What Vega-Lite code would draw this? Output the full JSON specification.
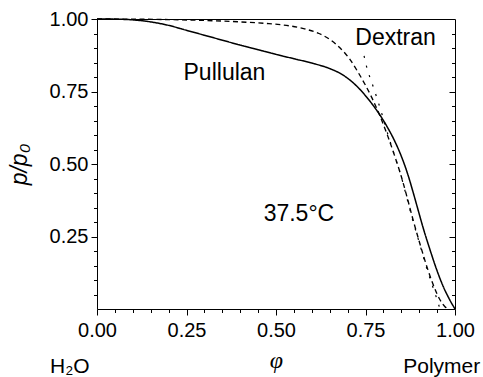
{
  "$schema": "https://vega.github.io/schema/vega-lite/v6.json",
  "width": 358,
  "height": 290,
  "autosize": {"type": "none"},
  "padding": {"left": 97, "top": 19, "right": 28, "bottom": 68},
  "background": "white",
  "config": {
    "view": {"stroke": "black", "strokeWidth": 1},
    "font": "Liberation Sans",
    "axis": {"tickColor": "black", "tickWidth": 1, "domain": false, "grid": false, "labelColor": "black", "titleColor": "black", "labelOverlap": false, "labelFlush": false}
  },
  "datasets": {
    "curves": [
      {"s": "Pullulan", "phi": 0.0, "p": 1.0},
      {"s": "Pullulan", "phi": 0.05, "p": 0.9995},
      {"s": "Pullulan", "phi": 0.1, "p": 0.997},
      {"s": "Pullulan", "phi": 0.15, "p": 0.99},
      {"s": "Pullulan", "phi": 0.2, "p": 0.978},
      {"s": "Pullulan", "phi": 0.25, "p": 0.961},
      {"s": "Pullulan", "phi": 0.3, "p": 0.944},
      {"s": "Pullulan", "phi": 0.35, "p": 0.927},
      {"s": "Pullulan", "phi": 0.4, "p": 0.91},
      {"s": "Pullulan", "phi": 0.45, "p": 0.894},
      {"s": "Pullulan", "phi": 0.5, "p": 0.878},
      {"s": "Pullulan", "phi": 0.55, "p": 0.863},
      {"s": "Pullulan", "phi": 0.6, "p": 0.848},
      {"s": "Pullulan", "phi": 0.65, "p": 0.829},
      {"s": "Pullulan", "phi": 0.68, "p": 0.812},
      {"s": "Pullulan", "phi": 0.707, "p": 0.789},
      {"s": "Pullulan", "phi": 0.73, "p": 0.763},
      {"s": "Pullulan", "phi": 0.753, "p": 0.731},
      {"s": "Pullulan", "phi": 0.775, "p": 0.696},
      {"s": "Pullulan", "phi": 0.795, "p": 0.66},
      {"s": "Pullulan", "phi": 0.812, "p": 0.625},
      {"s": "Pullulan", "phi": 0.83, "p": 0.583},
      {"s": "Pullulan", "phi": 0.85, "p": 0.527},
      {"s": "Pullulan", "phi": 0.868, "p": 0.465},
      {"s": "Pullulan", "phi": 0.882, "p": 0.407},
      {"s": "Pullulan", "phi": 0.895, "p": 0.35},
      {"s": "Pullulan", "phi": 0.911, "p": 0.28},
      {"s": "Pullulan", "phi": 0.93, "p": 0.205},
      {"s": "Pullulan", "phi": 0.949, "p": 0.135},
      {"s": "Pullulan", "phi": 0.967, "p": 0.078},
      {"s": "Pullulan", "phi": 0.986, "p": 0.03},
      {"s": "Pullulan", "phi": 1.0, "p": 0.0},
      {"s": "Dextran", "phi": 0.0, "p": 1.0},
      {"s": "Dextran", "phi": 0.1, "p": 0.9995},
      {"s": "Dextran", "phi": 0.2, "p": 0.998},
      {"s": "Dextran", "phi": 0.3, "p": 0.995},
      {"s": "Dextran", "phi": 0.4, "p": 0.99},
      {"s": "Dextran", "phi": 0.48, "p": 0.984},
      {"s": "Dextran", "phi": 0.54, "p": 0.976},
      {"s": "Dextran", "phi": 0.58, "p": 0.966},
      {"s": "Dextran", "phi": 0.62, "p": 0.95},
      {"s": "Dextran", "phi": 0.652, "p": 0.928},
      {"s": "Dextran", "phi": 0.683, "p": 0.895},
      {"s": "Dextran", "phi": 0.707, "p": 0.86},
      {"s": "Dextran", "phi": 0.728, "p": 0.819},
      {"s": "Dextran", "phi": 0.748, "p": 0.776},
      {"s": "Dextran", "phi": 0.768, "p": 0.728},
      {"s": "Dextran", "phi": 0.79, "p": 0.667},
      {"s": "Dextran", "phi": 0.812, "p": 0.597},
      {"s": "Dextran", "phi": 0.832, "p": 0.526},
      {"s": "Dextran", "phi": 0.85, "p": 0.457},
      {"s": "Dextran", "phi": 0.866, "p": 0.386},
      {"s": "Dextran", "phi": 0.883, "p": 0.307},
      {"s": "Dextran", "phi": 0.902, "p": 0.225},
      {"s": "Dextran", "phi": 0.923, "p": 0.14},
      {"s": "Dextran", "phi": 0.942, "p": 0.075},
      {"s": "Dextran", "phi": 0.958, "p": 0.032},
      {"s": "Dextran", "phi": 0.972, "p": 0.008},
      {"s": "Dextran", "phi": 0.982, "p": 0.0},
      {"s": "Model", "phi": 0.746, "p": 0.873},
      {"s": "Model", "phi": 0.753, "p": 0.836},
      {"s": "Model", "phi": 0.762, "p": 0.8},
      {"s": "Model", "phi": 0.772, "p": 0.765},
      {"s": "Model", "phi": 0.781, "p": 0.731},
      {"s": "Model", "phi": 0.789, "p": 0.7},
      {"s": "Model", "phi": 0.797, "p": 0.668},
      {"s": "Model", "phi": 0.813, "p": 0.6},
      {"s": "Model", "phi": 0.831, "p": 0.53},
      {"s": "Model", "phi": 0.849, "p": 0.46},
      {"s": "Model", "phi": 0.864, "p": 0.39},
      {"s": "Model", "phi": 0.881, "p": 0.31},
      {"s": "Model", "phi": 0.9, "p": 0.23},
      {"s": "Model", "phi": 0.92, "p": 0.145},
      {"s": "Model", "phi": 0.937, "p": 0.08},
      {"s": "Model", "phi": 0.949, "p": 0.036},
      {"s": "Model", "phi": 0.958, "p": 0.0}
    ],
    "notes": [
      {"label": "Pullulan", "phi": 0.356, "p": 0.788},
      {"label": "Dextran", "phi": 0.834, "p": 0.909},
      {"label": "37.5°C", "phi": 0.564, "p": 0.305}
    ],
    "ends": [
      {"label": "H₂O", "phi": -0.076, "p": -0.219},
      {"label": "Polymer", "phi": 0.963, "p": -0.219}
    ]
  },
  "resolve": {"axis": {"x": "independent", "y": "independent"}},
  "layer": [
    {
      "data": {"name": "curves"},
      "mark": {"type": "line", "color": "black", "interpolate": "monotone"},
      "encoding": {
        "x": {
          "field": "phi", "type": "quantitative",
          "scale": {"domain": [0, 1], "nice": false, "zero": false},
          "axis": {
            "orient": "bottom",
            "values": [0, 0.25, 0.5, 0.75, 1],
            "format": ".2f",
            "tickSize": 6,
            "labelFontSize": 20, "labelPadding": 5,
            "title": "φ", "titleFont": "Liberation Serif", "titleFontStyle": "italic", "titleFontWeight": "normal",
            "titleFontSize": 24, "titlePadding": 8
          }
        },
        "y": {
          "field": "p", "type": "quantitative",
          "scale": {"domain": [0, 1], "nice": false, "zero": false},
          "axis": {
            "orient": "left",
            "values": [0.25, 0.5, 0.75, 1],
            "format": ".2f",
            "tickSize": 6,
            "labelFontSize": 20, "labelPadding": 3,
            "title": "p/p₀", "titleFont": "Liberation Sans", "titleFontStyle": "italic", "titleFontWeight": "normal",
            "titleFontSize": 23, "titleX": -66, "titleBaseline": "bottom"
          }
        },
        "strokeDash": {
          "field": "s", "type": "nominal", "legend": null,
          "scale": {"domain": ["Pullulan", "Dextran", "Model"], "range": [[1, 0], [5, 3.5], [2, 8]]}
        },
        "strokeWidth": {
          "field": "s", "type": "nominal", "legend": null,
          "scale": {"domain": ["Pullulan", "Dextran", "Model"], "range": [1.5, 1.2, 2]}
        }
      }
    },
    {
      "data": {"name": "notes"},
      "mark": {"type": "text", "fontSize": 23, "font": "Liberation Sans", "align": "center", "baseline": "alphabetic", "color": "black"},
      "encoding": {
        "x": {
          "field": "phi", "type": "quantitative",
          "axis": {
            "orient": "bottom",
            "values": [0.05, 0.1, 0.15, 0.2, 0.3, 0.35, 0.4, 0.45, 0.55, 0.6, 0.65, 0.7, 0.8, 0.85, 0.9, 0.95],
            "tickSize": 3.5, "labels": false, "title": null
          }
        },
        "y": {
          "field": "p", "type": "quantitative",
          "axis": {
            "orient": "left",
            "values": [0.05, 0.1, 0.15, 0.2, 0.3, 0.35, 0.4, 0.45, 0.55, 0.6, 0.65, 0.7, 0.8, 0.85, 0.9, 0.95],
            "tickSize": 3.5, "labels": false, "title": null
          }
        },
        "text": {"field": "label", "type": "nominal"}
      }
    },
    {
      "data": {"name": "ends"},
      "transform": [{"filter": "datum.label == 'H₂O'"}],
      "mark": {"type": "text", "fontSize": 21, "font": "Liberation Sans", "align": "center", "baseline": "alphabetic", "color": "black"},
      "encoding": {
        "x": {"field": "phi", "type": "quantitative", "axis": null},
        "y": {
          "field": "p", "type": "quantitative",
          "axis": {
            "orient": "right", "offset": -6,
            "values": [0.25, 0.5, 0.75],
            "tickSize": 6, "labels": false, "title": null
          }
        },
        "text": {"field": "label", "type": "nominal"}
      }
    },
    {
      "data": {"name": "ends"},
      "transform": [{"filter": "datum.label == 'Polymer'"}],
      "mark": {"type": "text", "fontSize": 21, "font": "Liberation Sans", "align": "center", "baseline": "alphabetic", "color": "black"},
      "encoding": {
        "x": {"field": "phi", "type": "quantitative", "axis": null},
        "y": {
          "field": "p", "type": "quantitative",
          "axis": {
            "orient": "right", "offset": -3.5,
            "values": [0.05, 0.1, 0.15, 0.2, 0.3, 0.35, 0.4, 0.45, 0.55, 0.6, 0.65, 0.7, 0.8, 0.85, 0.9, 0.95],
            "tickSize": 3.5, "labels": false, "title": null
          }
        },
        "text": {"field": "label", "type": "nominal"}
      }
    }
  ]
}
